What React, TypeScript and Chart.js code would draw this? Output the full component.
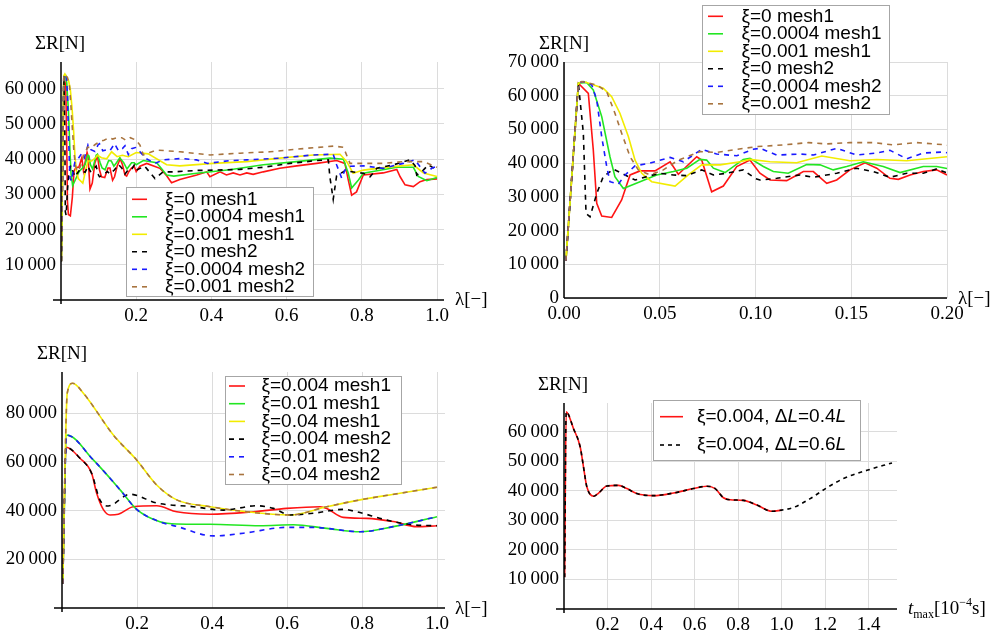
import React, { useEffect, useRef } from "react";
import { Chart, registerables } from "chart.js";

Chart.register(...registerables);

type Pt = [number, number];

// ---------- Top panels: ΣR vs λ (ξ small), same runs shown on [0,1] and zoomed on [0,0.2] ----------
const topLabels = ["ξ=0 mesh1", "ξ=0.0004 mesh1", "ξ=0.001 mesh1", "ξ=0 mesh2", "ξ=0.0004 mesh2", "ξ=0.001 mesh2"];

const xi0Mesh1: Pt[] = [
  [0.001, 11000], [0.0075, 63700], [0.0127, 60700], [0.0153, 43900], [0.0171, 28100], [0.0197, 24300],
  [0.0249, 23900], [0.0301, 29100], [0.0345, 36500], [0.0397, 37700], [0.0475, 37700], [0.0554, 40400],
  [0.0597, 36700], [0.0693, 41900], [0.0719, 40900], [0.0771, 31500], [0.0832, 33200], [0.0902, 39000],
  [0.0971, 40900], [0.1023, 37000], [0.1076, 35000], [0.1163, 34800], [0.125, 37500], [0.1302, 37500],
  [0.1372, 34000], [0.1424, 35000], [0.1493, 38000], [0.1572, 40100], [0.1633, 38500], [0.1702, 35500],
  [0.1746, 35200], [0.1807, 36500], [0.1876, 37500], [0.1946, 38000], [0.2, 36500], [0.21, 38000],
  [0.228, 38800], [0.25, 37900], [0.263, 37400], [0.281, 35300], [0.294, 33300], [0.316, 34200],
  [0.361, 35500], [0.3875, 36400], [0.396, 35000], [0.423, 36400], [0.44, 35500], [0.458, 36100],
  [0.476, 35500], [0.494, 36100], [0.511, 35700], [0.538, 36400], [0.582, 37400], [0.627, 38100],
  [0.68, 38800], [0.733, 39600], [0.755, 38800], [0.764, 34100], [0.773, 29800], [0.786, 30700],
  [0.804, 35500], [0.857, 36100], [0.893, 37100], [0.902, 35000], [0.915, 32700], [0.937, 32200],
  [0.955, 33600], [0.973, 34200], [1.0, 34400],
];
const xi00004Mesh1: Pt[] = [
  [0.001, 11000], [0.0075, 63700], [0.0118, 63900], [0.0153, 61700], [0.0197, 53800], [0.024, 41900],
  [0.0266, 36000], [0.031, 32500], [0.0397, 34500], [0.0484, 36500], [0.0571, 37500], [0.0641, 38500],
  [0.071, 41100], [0.0745, 40900], [0.078, 38500], [0.0841, 37200], [0.0936, 41100], [0.0971, 41400],
  [0.1041, 39000], [0.1093, 37500], [0.1171, 37000], [0.1267, 39600], [0.1337, 39500], [0.1406, 38000],
  [0.1476, 39000], [0.1563, 40400], [0.1667, 39000], [0.1755, 37200], [0.1876, 39000], [0.1946, 39000],
  [0.2, 38400], [0.219, 39600], [0.2545, 39000], [0.281, 35500], [0.3, 35200], [0.361, 36000],
  [0.449, 37000], [0.538, 38400], [0.627, 39300], [0.715, 40300], [0.751, 40000], [0.764, 36000],
  [0.773, 31800], [0.791, 34100], [0.804, 36000], [0.893, 37700], [0.937, 37700], [0.95, 35100],
  [0.973, 33900], [1.0, 34800],
];
const xi0001Mesh1: Pt[] = [
  [0.001, 11000], [0.0075, 63700], [0.0103, 64200], [0.0205, 62200], [0.0249, 59700], [0.0292, 54800],
  [0.0336, 47900], [0.0371, 40900], [0.0406, 37000], [0.0458, 34500], [0.058, 33200], [0.0649, 36500],
  [0.0719, 39500], [0.0815, 39500], [0.0919, 40400], [0.0971, 41100], [0.1076, 40400], [0.1215, 40100],
  [0.1346, 42100], [0.1493, 40700], [0.1633, 41100], [0.179, 40700], [0.2, 41900], [0.232, 41500],
  [0.281, 38400], [0.316, 38100], [0.405, 38800], [0.494, 39300], [0.582, 40300], [0.671, 41200],
  [0.742, 41400], [0.76, 39300], [0.777, 36000], [0.804, 36900], [0.875, 37800], [0.937, 38400],
  [0.964, 36100], [1.0, 35100],
];
const xi0Mesh2: Pt[] = [
  [0.001, 11000], [0.0075, 63700], [0.0101, 48900], [0.0115, 25100], [0.0136, 24100], [0.0171, 31000],
  [0.0205, 36000], [0.0258, 38200], [0.0319, 36500], [0.0371, 35000], [0.0432, 36000], [0.0501, 37000],
  [0.0571, 36500], [0.0641, 36300], [0.0719, 38000], [0.078, 36500], [0.085, 37000], [0.0936, 38000],
  [0.0997, 35500], [0.1023, 35000], [0.1111, 35500], [0.1232, 36500], [0.1302, 35800], [0.1424, 37000],
  [0.1528, 38500], [0.1615, 37500], [0.1702, 35800], [0.179, 37000], [0.1876, 37000], [0.1946, 38300],
  [0.201, 36900], [0.2225, 38000], [0.25, 34500], [0.272, 36400], [0.299, 36400], [0.361, 36800],
  [0.414, 36900], [0.476, 37100], [0.538, 37700], [0.609, 38800], [0.68, 39600], [0.711, 39800],
  [0.715, 35000], [0.724, 28600], [0.733, 35300], [0.755, 36700], [0.804, 36000], [0.822, 35000],
  [0.84, 37400], [0.884, 38400], [0.928, 39800], [0.9415, 38200], [0.946, 35500], [0.9635, 36900],
  [0.977, 38400], [1.0, 36900],
];
const xi00004Mesh2: Pt[] = [
  [0.001, 11000], [0.0075, 63700], [0.0099, 64200], [0.0145, 63200], [0.0171, 58700], [0.0197, 47800],
  [0.0223, 39000], [0.024, 34500], [0.0284, 33800], [0.0319, 36500], [0.0371, 39200], [0.0449, 40000],
  [0.0554, 41700], [0.0623, 40400], [0.0719, 44100], [0.0797, 42700], [0.0902, 42200], [0.0988, 44100],
  [0.1023, 44400], [0.1111, 42400], [0.1232, 42700], [0.1302, 42400], [0.1424, 44400], [0.1528, 42400],
  [0.1633, 43000], [0.1702, 43800], [0.179, 41300], [0.1876, 43000], [0.198, 43300], [0.21, 42100],
  [0.226, 40200], [0.25, 38800], [0.272, 39800], [0.32, 40200], [0.36, 39800], [0.39, 38800],
  [0.45, 39600], [0.494, 39800], [0.582, 40300], [0.671, 41200], [0.724, 41400], [0.733, 38400],
  [0.7465, 34600], [0.755, 36900], [0.77, 38000], [0.804, 38100], [0.857, 37400], [0.91, 38800],
  [0.9415, 39800], [0.968, 36000], [0.986, 37400], [1.0, 38000],
];
const xi0001Mesh2: Pt[] = [
  [0.001, 11000], [0.0075, 63700], [0.0092, 64200], [0.0171, 63200], [0.0223, 61200], [0.0266, 54800],
  [0.0301, 48900], [0.0345, 41900], [0.0388, 38000], [0.0449, 36500], [0.0519, 38000], [0.0597, 40900],
  [0.071, 43400], [0.0797, 43200], [0.0902, 44100], [0.1006, 44900], [0.1145, 45400], [0.1276, 46100],
  [0.1372, 45700], [0.1493, 46100], [0.1615, 46100], [0.172, 45400], [0.1842, 46100], [0.1997, 45400],
  [0.21, 44000], [0.219, 41200], [0.2545, 42600], [0.3165, 42100], [0.396, 41200], [0.476, 41700],
  [0.556, 42100], [0.6535, 43100], [0.724, 43700], [0.751, 43400], [0.7686, 38800], [0.804, 38800],
  [0.857, 38800], [0.91, 39300], [0.964, 39300], [1.0, 37700],
];

// ---------- Bottom-left: ΣR vs λ (larger ξ) ----------
const bottomLabels = ["ξ=0.004 mesh1", "ξ=0.01 mesh1", "ξ=0.04 mesh1", "ξ=0.004 mesh2", "ξ=0.01 mesh2", "ξ=0.04 mesh2"];

const xi0004Mesh1: Pt[] = [
  [0.002, 10000], [0.0107, 66000], [0.048, 61500], [0.079, 55300], [0.0925, 47100], [0.11, 40500],
  [0.128, 38200], [0.15, 38500], [0.19, 41600], [0.2525, 42000], [0.306, 39500], [0.395, 38500],
  [0.51, 39500], [0.599, 40900], [0.688, 41600], [0.706, 40900], [0.75, 37200], [0.8125, 36800],
  [0.883, 35500], [0.946, 33400], [1.0, 33800],
];
const xi001Mesh1: Pt[] = [
  [0.002, 10000], [0.0125, 71000], [0.0835, 60800], [0.155, 48500], [0.199, 40500], [0.261, 35400],
  [0.306, 34500], [0.395, 34400], [0.528, 33800], [0.617, 34200], [0.706, 32700], [0.795, 31300],
  [0.883, 33400], [1.0, 37500],
];
const xi004Mesh1: Pt[] = [
  [0.002, 10000], [0.014, 88200], [0.0285, 92300], [0.057, 88200], [0.137, 71000], [0.199, 60800],
  [0.2525, 50500], [0.306, 44400], [0.395, 41600], [0.4925, 39500], [0.608, 38200], [0.706, 41600],
  [0.795, 44400], [0.901, 47100], [1.0, 49600],
];
const xi0004Mesh2: Pt[] = [
  [0.002, 10000], [0.0107, 66000], [0.048, 61500], [0.079, 55300], [0.101, 44400], [0.1235, 41900],
  [0.181, 46700], [0.2525, 43100], [0.35, 41600], [0.43, 40200], [0.519, 42000], [0.564, 40900],
  [0.608, 38200], [0.67, 38900], [0.75, 40500], [0.786, 39500], [0.866, 36100], [0.937, 34100],
  [1.0, 33800],
];
const xi001Mesh2: Pt[] = [
  [0.002, 10000], [0.0125, 71000], [0.0835, 60800], [0.155, 48500], [0.199, 40500], [0.261, 35400],
  [0.306, 33500], [0.4035, 29600], [0.4835, 30700], [0.599, 33100], [0.67, 33100], [0.706, 32700],
  [0.795, 31300], [0.883, 33400], [1.0, 37500],
];
const xi004Mesh2: Pt[] = [
  [0.002, 10000], [0.014, 88200], [0.0285, 92300], [0.057, 88200], [0.137, 71000], [0.199, 60800],
  [0.2525, 50500], [0.306, 44400], [0.395, 41600], [0.4925, 39500], [0.608, 38200], [0.706, 41600],
  [0.795, 44400], [0.901, 47100], [1.0, 49600],
];

// ---------- Bottom-right: ΣR vs t_max ----------
const tmaxLabels = ["ξ=0.004, ΔL=0.4L", "ξ=0.004, ΔL=0.6L"];
const dL04: Pt[] = [
  [0.003, 10800], [0.01, 66800], [0.0437, 61100], [0.0745, 54900], [0.0897, 48100], [0.105, 41400],
  [0.136, 38200], [0.159, 39300], [0.197, 41700], [0.2506, 41900], [0.289, 40800], [0.335, 39100],
  [0.4115, 38400], [0.5035, 39300], [0.595, 40800], [0.657, 41600], [0.695, 40800], [0.733, 37700],
  [0.764, 37000], [0.825, 36800], [0.887, 35200], [0.956, 33100], [1.0, 33500],
];
const dL06: Pt[] = [
  [0.003, 10800], [0.01, 66800], [0.0437, 61100], [0.0745, 54900], [0.0897, 48100], [0.105, 41400],
  [0.136, 38200], [0.159, 39300], [0.197, 41700], [0.2506, 41900], [0.289, 40800], [0.335, 39100],
  [0.4115, 38400], [0.5035, 39300], [0.595, 40800], [0.657, 41600], [0.695, 40800], [0.733, 37700],
  [0.764, 37000], [0.825, 36800], [0.887, 35200], [0.956, 33100], [1.0, 33500], [1.055, 34400],
  [1.132, 37400], [1.209, 41100], [1.285, 44200], [1.393, 47000], [1.508, 49500],
];

// ---------- Tick values ----------
const lambdaTicks = [0.2, 0.4, 0.6, 0.8, 1.0];
const lambdaTickLabels = ["0.2", "0.4", "0.6", "0.8", "1.0"];
const zoomTicks = [0, 0.05, 0.1, 0.15, 0.2];
const zoomTickLabels = ["0.00", "0.05", "0.10", "0.15", "0.20"];
const tmaxTicks = [0.2, 0.4, 0.6, 0.8, 1.0, 1.2, 1.4];
const tmaxTickLabels = ["0.2", "0.4", "0.6", "0.8", "1.0", "1.2", "1.4"];
const forceTicksTL = [10000, 20000, 30000, 40000, 50000, 60000];
const forceTicksTR = [0, 10000, 20000, 30000, 40000, 50000, 60000, 70000];
const forceTicksBL = [20000, 40000, 60000, 80000];
const forceTicksBR = [10000, 20000, 30000, 40000, 50000, 60000];

// ---------- Styles ----------
const SERIF = '"Liberation Serif", "Times New Roman", serif';
const SANS = '"Liberation Sans", Arial, sans-serif';
const C = {
  red: "#ff1414",
  green: "#22e622",
  yellow: "#f2ec00",
  black: "#000000",
  blue: "#1a1aff",
  brown: "#a8743f",
};
const DASH = [5, 5];

const fmtForce = (v: number) =>
  v === 0 ? "0" : String(Math.round(v)).replace(/\B(?=(\d{3})+(?!\d))/g, "\u2009");

interface SeriesCfg { label: string; data: Pt[]; color: string; dash: number[] }
interface Seg { t: string; italic?: boolean; size?: number; dy?: number }
interface PanelCfg {
  id: string;
  left: number; top: number; width: number; height: number; // canvas (page px)
  area: { l: number; t: number; r: number; b: number }; // plot area (page px)
  xMax: number; yMax: number;
  xTicks: number[]; xTickLabels: string[];
  yTicks: number[];
  series: SeriesCfg[];
  smooth: boolean;
  ext: [number, number];
  legend: { x: number; y: number; w: number; h: number; rows: number[]; l0: number; l1: number; tx: number; italicL?: boolean };
  yTitle: { x: number; y: number };
  xTitle: { x: number; y: number; segs: Seg[] };
}

const topSeries = (): SeriesCfg[] => [
  { label: topLabels[0], data: xi0Mesh1, color: C.red, dash: [] },
  { label: topLabels[1], data: xi00004Mesh1, color: C.green, dash: [] },
  { label: topLabels[2], data: xi0001Mesh1, color: C.yellow, dash: [] },
  { label: topLabels[3], data: xi0Mesh2, color: C.black, dash: DASH },
  { label: topLabels[4], data: xi00004Mesh2, color: C.blue, dash: DASH },
  { label: topLabels[5], data: xi0001Mesh2, color: C.brown, dash: DASH },
];

const lambdaTitle: Seg[] = [{ t: "λ[−]" }];

const PANELS: PanelCfg[] = [
  {
    id: "tl", left: 0, top: 0, width: 500, height: 330,
    area: { l: 61, t: 62, r: 444, b: 300 },
    xMax: 1.0186, yMax: 67600,
    xTicks: lambdaTicks, xTickLabels: lambdaTickLabels, yTicks: forceTicksTL,
    series: topSeries(), smooth: false, ext: [8, 4],
    legend: { x: 126, y: 187, w: 187, h: 109, rows: [199.3, 216.8, 234.3, 251.8, 269.3, 286.8], l0: 132, l1: 147, tx: 165 },
    yTitle: { x: 60, y: 49 },
    xTitle: { x: 455, y: 305, segs: lambdaTitle },
  },
  {
    id: "tr", left: 500, top: 0, width: 502, height: 330,
    area: { l: 564, t: 62, r: 947, b: 298 },
    xMax: 0.2, yMax: 70000,
    xTicks: zoomTicks, xTickLabels: zoomTickLabels, yTicks: forceTicksTR,
    series: topSeries(), smooth: false, ext: [0, 0],
    legend: { x: 702, y: 5, w: 187, h: 109, rows: [16.3, 33.8, 51.3, 68.8, 86.3, 103.8], l0: 708, l1: 723, tx: 741.5 },
    yTitle: { x: 564, y: 49 },
    xTitle: { x: 958, y: 304, segs: lambdaTitle },
  },
  {
    id: "bl", left: 0, top: 330, width: 500, height: 304,
    area: { l: 62, t: 372, r: 445, b: 608 },
    xMax: 1.0213, yMax: 96900,
    xTicks: lambdaTicks, xTickLabels: lambdaTickLabels, yTicks: forceTicksBL,
    series: [
      { label: bottomLabels[0], data: xi0004Mesh1, color: C.red, dash: [] },
      { label: bottomLabels[1], data: xi001Mesh1, color: C.green, dash: [] },
      { label: bottomLabels[2], data: xi004Mesh1, color: C.yellow, dash: [] },
      { label: bottomLabels[3], data: xi0004Mesh2, color: C.black, dash: DASH },
      { label: bottomLabels[4], data: xi001Mesh2, color: C.blue, dash: DASH },
      { label: bottomLabels[5], data: xi004Mesh2, color: C.brown, dash: DASH },
    ],
    smooth: true, ext: [8, 4],
    legend: { x: 225, y: 376, w: 176, h: 108, rows: [386, 403.7, 421.4, 439.1, 456.8, 474.5], l0: 229, l1: 245, tx: 261.5 },
    yTitle: { x: 62, y: 359 },
    xTitle: { x: 455, y: 614, segs: lambdaTitle },
  },
  {
    id: "br", left: 500, top: 330, width: 502, height: 304,
    area: { l: 564, t: 403, r: 897, b: 609 },
    xMax: 1.531, yMax: 69800,
    xTicks: tmaxTicks, xTickLabels: tmaxTickLabels, yTicks: forceTicksBR,
    series: [
      { label: tmaxLabels[0], data: dL04, color: C.red, dash: [] },
      { label: tmaxLabels[1], data: dL06, color: C.black, dash: [4, 4] },
    ],
    smooth: true, ext: [8, 4],
    legend: { x: 653, y: 400, w: 207, h: 60, rows: [416.7, 445], l0: 660, l1: 683, tx: 697, italicL: true },
    yTitle: { x: 563, y: 390 },
    xTitle: {
      x: 908, y: 614,
      segs: [
        { t: "t", italic: true },
        { t: "max", size: 12, dy: 4 },
        { t: "[10" },
        { t: "−4", size: 12, dy: -8 },
        { t: "s]" },
      ],
    },
  },
];

function drawSegs(ctx: CanvasRenderingContext2D, segs: Seg[], x: number, y: number, family: string, base: number) {
  let cx = x;
  for (const s of segs) {
    ctx.font = `${s.italic ? "italic " : ""}${s.size ?? base}px ${family}`;
    ctx.fillText(s.t, cx, y + (s.dy ?? 0));
    cx += ctx.measureText(s.t).width;
  }
}

function splitItalicL(text: string): Seg[] {
  const out: Seg[] = [];
  let buf = "";
  for (const ch of text) {
    if (ch === "L") {
      if (buf) out.push({ t: buf });
      buf = "";
      out.push({ t: "L", italic: true });
    } else buf += ch;
  }
  if (buf) out.push({ t: buf });
  return out;
}

function overlay(p: PanelCfg) {
  const ox = p.left, oy = p.top;
  return {
    id: "overlay_" + p.id,
    afterDatasetsDraw(chart: any) {
      const ctx: CanvasRenderingContext2D = chart.ctx;
      const a = chart.chartArea;
      ctx.save();
      ctx.strokeStyle = "#000";
      ctx.lineWidth = 1.5;
      ctx.setLineDash([]);
      ctx.beginPath();
      ctx.moveTo(a.left - p.ext[0], a.bottom);
      ctx.lineTo(a.right, a.bottom);
      ctx.moveTo(a.left, a.top);
      ctx.lineTo(a.left, a.bottom + p.ext[1]);
      ctx.stroke();
      ctx.restore();
    },
    afterDraw(chart: any) {
      const ctx: CanvasRenderingContext2D = chart.ctx;
      ctx.save();
      // legend
      const L = p.legend;
      ctx.fillStyle = "#fff";
      ctx.fillRect(L.x - ox, L.y - oy, L.w, L.h);
      ctx.strokeStyle = "#a6a6a6";
      ctx.lineWidth = 1;
      ctx.strokeRect(L.x - ox + 0.5, L.y - oy + 0.5, L.w, L.h);
      p.series.forEach((s, i) => {
        const ry = L.rows[i] - oy;
        ctx.strokeStyle = s.color;
        ctx.lineWidth = 1.6;
        ctx.setLineDash(s.dash);
        ctx.beginPath();
        ctx.moveTo(L.l0 - ox, ry);
        ctx.lineTo(L.l1 - ox, ry);
        ctx.stroke();
        ctx.setLineDash([]);
        ctx.fillStyle = "#000";
        ctx.textBaseline = "middle";
        ctx.textAlign = "left";
        const segs = L.italicL ? splitItalicL(s.label) : [{ t: s.label }];
        drawSegs(ctx, segs, L.tx - ox, ry, SANS, 19);
      });
      // axis titles
      ctx.fillStyle = "#000";
      ctx.textBaseline = "alphabetic";
      ctx.textAlign = "center";
      ctx.font = `19px ${SERIF}`;
      ctx.fillText("ΣR[N]", p.yTitle.x - ox, p.yTitle.y - oy);
      ctx.textAlign = "left";
      drawSegs(ctx, p.xTitle.segs, p.xTitle.x - ox, p.xTitle.y - oy, SERIF, 19);
      ctx.restore();
    },
  };
}

function buildConfig(p: PanelCfg): any {
  const n = p.series.length;
  const padL = p.area.l - p.left;
  const padB = p.top + p.height - p.area.b;
  const yW = padL - 2;
  const xH = padB - 1;
  return {
    type: "line",
    data: {
      datasets: p.series.map((s, i) => ({
        label: s.label,
        data: s.data.map(([x, y]) => ({ x, y })),
        borderColor: s.color,
        backgroundColor: s.color,
        borderWidth: 1.6,
        borderDash: s.dash,
        pointRadius: 0,
        fill: false,
        tension: p.smooth ? 0.4 : 0,
        cubicInterpolationMode: p.smooth ? "monotone" : "default",
        order: n - i,
      })),
    },
    options: {
      animation: false,
      responsive: false,
      maintainAspectRatio: false,
      devicePixelRatio: 1,
      events: [],
      layout: {
        padding: {
          left: padL - yW,
          top: p.area.t - p.top,
          right: p.left + p.width - p.area.r,
          bottom: padB - xH,
        },
      },
      plugins: { legend: { display: false }, tooltip: { enabled: false } },
      scales: {
        x: {
          type: "linear",
          min: 0,
          max: p.xMax,
          afterFit: (s: any) => { s.height = xH; },
          afterBuildTicks: (ax: any) => { ax.ticks = p.xTicks.map((v) => ({ value: v })); },
          ticks: {
            autoSkip: false,
            maxRotation: 0,
            minRotation: 0,
            padding: 5,
            color: "#000",
            font: { family: SERIF, size: 19 },
            callback: (v: number) => {
              const i = p.xTicks.findIndex((t) => Math.abs(t - v) < 1e-9);
              return i >= 0 ? p.xTickLabels[i] : "";
            },
          },
          grid: { color: "#dcdcdc", lineWidth: 1, drawTicks: false },
          border: { display: false },
        },
        y: {
          type: "linear",
          min: 0,
          max: p.yMax,
          afterFit: (s: any) => { s.width = yW; },
          afterBuildTicks: (ax: any) => { ax.ticks = p.yTicks.map((v) => ({ value: v })); },
          ticks: {
            autoSkip: false,
            padding: 5,
            color: "#000",
            font: { family: SERIF, size: 19 },
            callback: (v: number) => fmtForce(v),
          },
          grid: { color: "#dcdcdc", lineWidth: 1, drawTicks: false },
          border: { display: false },
        },
      },
    },
    plugins: [overlay(p)],
  };
}

function Panel({ p }: { p: PanelCfg }) {
  const ref = useRef<HTMLCanvasElement>(null);
  useEffect(() => {
    if (!ref.current) return;
    const chart = new Chart(ref.current, buildConfig(p));
    return () => chart.destroy();
  }, [p]);
  return (
    <canvas
      ref={ref}
      width={p.width}
      height={p.height}
      style={{ position: "absolute", left: p.left, top: p.top, width: p.width, height: p.height }}
    />
  );
}

export default function App() {
  return (
    <div style={{ position: "absolute", left: 0, top: 0, width: 1002, height: 634, background: "#fff", overflow: "hidden" }}>
      {PANELS.map((p) => (
        <Panel key={p.id} p={p} />
      ))}
    </div>
  );
}
